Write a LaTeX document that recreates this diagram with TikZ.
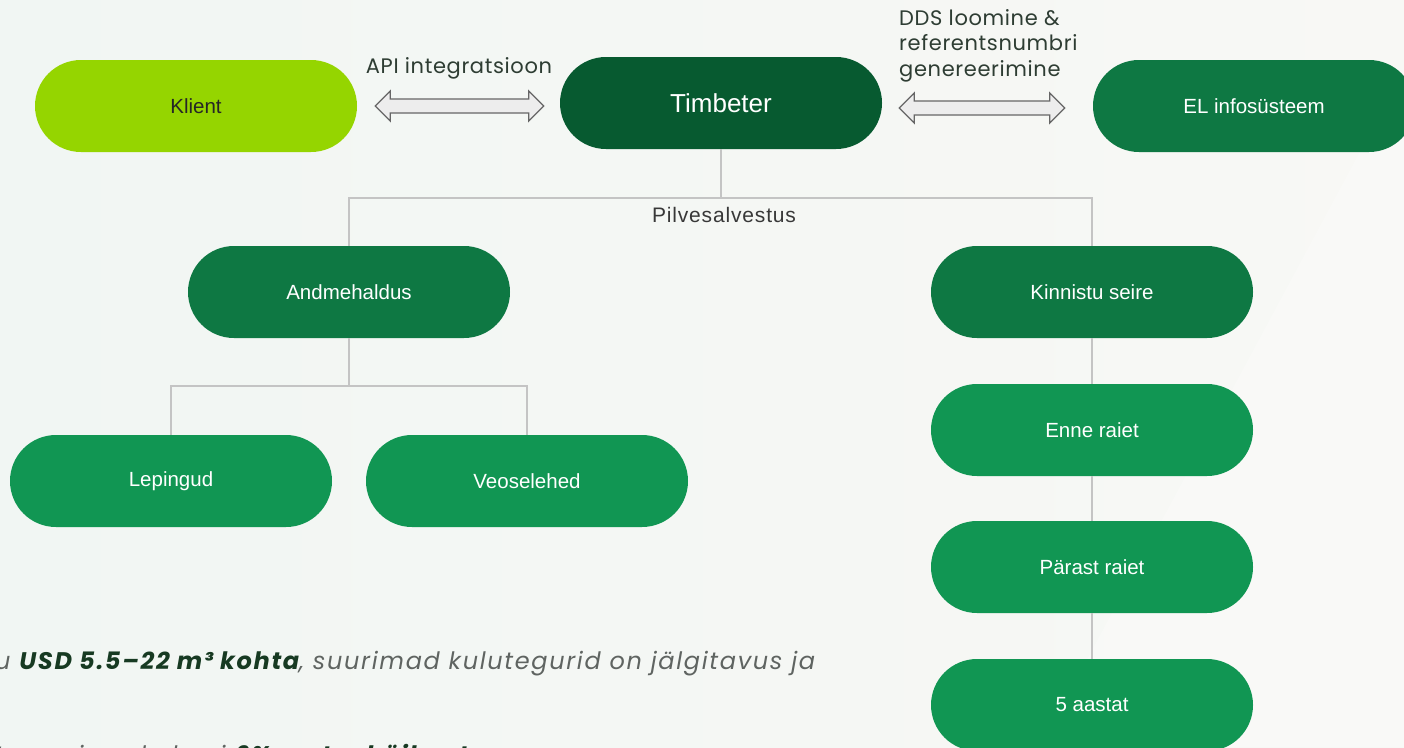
\documentclass[tikz,border=0pt]{standalone}
\usepackage{fontspec}
\setmainfont{Liberation Sans}
\newfontfamily\labfont[LetterSpace=3]{Poppins}
\newfontfamily\bodyfont[LetterSpace=7]{Poppins}
\newfontfamily\pilvfont[LetterSpace=4]{Liberation Sans}
\usetikzlibrary{shapes.misc,calc}
\definecolor{bgL}{HTML}{F1F6F3}
\definecolor{bgR}{HTML}{F8F8F5}
\definecolor{limeG}{HTML}{95D500}
\definecolor{darkG}{HTML}{075A30}
\definecolor{midG}{HTML}{0E7843}
\definecolor{liteG}{HTML}{119653}
\definecolor{lineC}{HTML}{C4C4C4}
\definecolor{labC}{HTML}{2E3D33}
\definecolor{boldC}{HTML}{173A22}
\definecolor{italC}{HTML}{5F6461}
\newcommand{\blockarrow}[2]{%
  \draw[blkarr] (#1) -- ++(15,-15) -- ++(0,8) -- ($(#2)+(-15,-7)$) -- ++(0,-8) -- (#2)
    -- ++(-15,15) -- ++(0,-8) -- ($(#1)+(15,7)$) -- ++(0,8) -- cycle;}
\begin{document}
\begin{tikzpicture}[x=1pt,y=-1pt,
  pill/.style={rounded rectangle, rounded rectangle arc length=180, minimum width=322pt, minimum height=92pt, inner sep=0pt, text=white, font=\fontsize{20.5}{24}\selectfont},
  conn/.style={draw=lineC, line width=1.6pt},
  blkarr/.style={draw=black!60, fill=black!7, line width=1.3pt, line join=miter},
  lab/.style={text=labC, font=\labfont\fontsize{21}{25.5}\selectfont}
]
\useasboundingbox (0,0) rectangle (1404,747);
\clip (0,0) rectangle (1404,747);
\shade[left color=bgL, right color=bgR] (0,0) rectangle (1404,747);
\fill[white, opacity=0.25] (1404,70) -- (1040,747) -- (1404,747) -- cycle;

% nodes
\node[pill, fill=limeG, text=black!85] (klient) at (196,106) {Klient};
\node[pill, fill=darkG, font=\fontsize{26}{30}\selectfont] (timbeter) at (721,103) {Timbeter};
\node[pill, fill=midG] (el) at (1254,106) {EL infosüsteem};
\node[pill, fill=midG] (andm) at (349,292) {Andmehaldus};
\node[pill, fill=midG] (kin) at (1092,292) {Kinnistu seire};
\node[pill, fill=liteG] (lep) at (171,481) {Lepingud};
\node[pill, fill=liteG] (veo) at (527,481) {Veoselehed};
\node[pill, fill=liteG] (enne) at (1092,430) {Enne raiet};
\node[pill, fill=liteG] (parast) at (1092,567) {Pärast raiet};
\node[pill, fill=liteG] (aast) at (1092,705) {5 aastat};

% tree connectors
\coordinate (hub) at (721,198);
\coordinate (hub2) at (349,386);
\draw[conn] (timbeter.south) -- (hub);
\draw[conn] (andm.north) |- (hub) -| (kin.north);
\draw[conn] (andm.south) -- (hub2);
\draw[conn] (lep.north) |- (hub2) -| (veo.north);
\draw[conn] (kin.south) -- (enne.north);
\draw[conn] (enne.south) -- (parast.north);
\draw[conn] (parast.south) -- (aast.north);

\node[text=black!78, font=\pilvfont\fontsize{21}{25}\selectfont] (pilv) at (724,215) {Pilvesalvestus};

% block arrows
\coordinate (a1s) at ($(klient.east)+(18,0)$);
\coordinate (a1e) at ($(timbeter.west)+(-16,3)$);
\coordinate (a2s) at ($(timbeter.east)+(17,5)$);
\coordinate (a2e) at ($(el.west)+(-28,2)$);
\blockarrow{a1s}{a1e}
\blockarrow{a2s}{a2e}

\node[lab] (apilab) at (459,68) {API integratsioon};
\node[lab, anchor=north west, align=left, inner sep=0pt] (ddslab) at (899,9) {DDS loomine \&\\referentsnumbri\\genereerimine};

% bottom text
\node[anchor=base west, inner sep=0pt, text=italC, font=\bodyfont\itshape\fontsize{24}{28}\selectfont] (t1) at (-5,669)
  {u \textcolor{boldC}{\bfseries USD 5.5–22 m³ kohta}, suurimad kulutegurid on jälgitavus ja};
\node[anchor=base west, inner sep=0pt, text=italC, font=\bodyfont\itshape\fontsize{24}{28}\selectfont] (t2) at (-5,763)
  {tuues juurde kuni \textcolor{boldC}{\bfseries 6\% metsakäibest}};
\end{tikzpicture}
\end{document}
